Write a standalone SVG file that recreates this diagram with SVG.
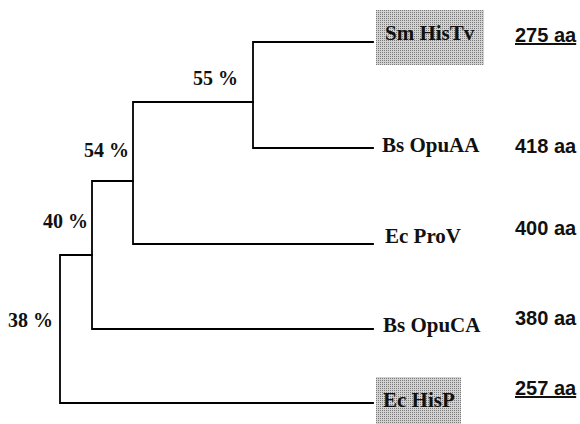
<svg xmlns="http://www.w3.org/2000/svg" width="580" height="424" viewBox="0 0 580 424">
<style>
.ln{stroke:#000;stroke-width:1.8;fill:none;stroke-linecap:square}
.pct{font-family:"Liberation Serif","Times New Roman",serif;font-weight:bold;font-size:20px;fill:#111}
.nm{font-family:"Liberation Serif","Times New Roman",serif;font-weight:bold;font-size:21px;fill:#111}
.aa{font-family:"Liberation Sans",Arial,sans-serif;font-weight:bold;font-size:20px;fill:#111}
.hl{fill:url(#dots)}
</style>
<defs>
<pattern id="dots" width="2" height="2" patternUnits="userSpaceOnUse">
<rect width="2" height="2" fill="#d2d2d2"/>
<rect width="1" height="1" fill="#7a7a7a"/>
</pattern>
</defs>
<rect width="580" height="424" fill="#fff"/>
<g id="connectors">
<path class="ln" d="M253,42 H373 M253,148 H373 M253,42 V148"/>
<path class="ln" d="M133,102 H253 M133,244 H373 M133,102 V244"/>
<path class="ln" d="M92,181 H133 M92,329 H373 M92,181 V329"/>
<path class="ln" d="M60,255 H92 M60,403 H373 M60,255 V403"/>
</g>
<g id="labels-pct">
<text class="pct" x="238" y="85" text-anchor="end">55 %</text>
<text class="pct" x="129" y="157" text-anchor="end">54 %</text>
<text class="pct" x="88" y="228" text-anchor="end">40 %</text>
<text class="pct" x="53" y="327" text-anchor="end">38 %</text>
</g>
<g id="SmHisTv">
<rect class="hl" x="376" y="10" width="108" height="55"/>
<text class="nm" x="385" y="40">Sm HisTv</text>
<text class="aa" x="515" y="42" text-decoration="underline">275 aa</text>
</g>
<g id="BsOpuAA">
<text class="nm" x="382" y="152">Bs OpuAA</text>
<text class="aa" x="515" y="153">418 aa</text>
</g>
<g id="EcProV">
<text class="nm" x="385" y="243">Ec ProV</text>
<text class="aa" x="515" y="235">400 aa</text>
</g>
<g id="BsOpuCA">
<text class="nm" x="383" y="332">Bs OpuCA</text>
<text class="aa" x="515" y="325">380 aa</text>
</g>
<g id="EcHisP">
<rect class="hl" x="376" y="377" width="85" height="47"/>
<text class="nm" x="383" y="407">Ec HisP</text>
<text class="aa" x="515" y="395" text-decoration="underline">257 aa</text>
</g>
</svg>
